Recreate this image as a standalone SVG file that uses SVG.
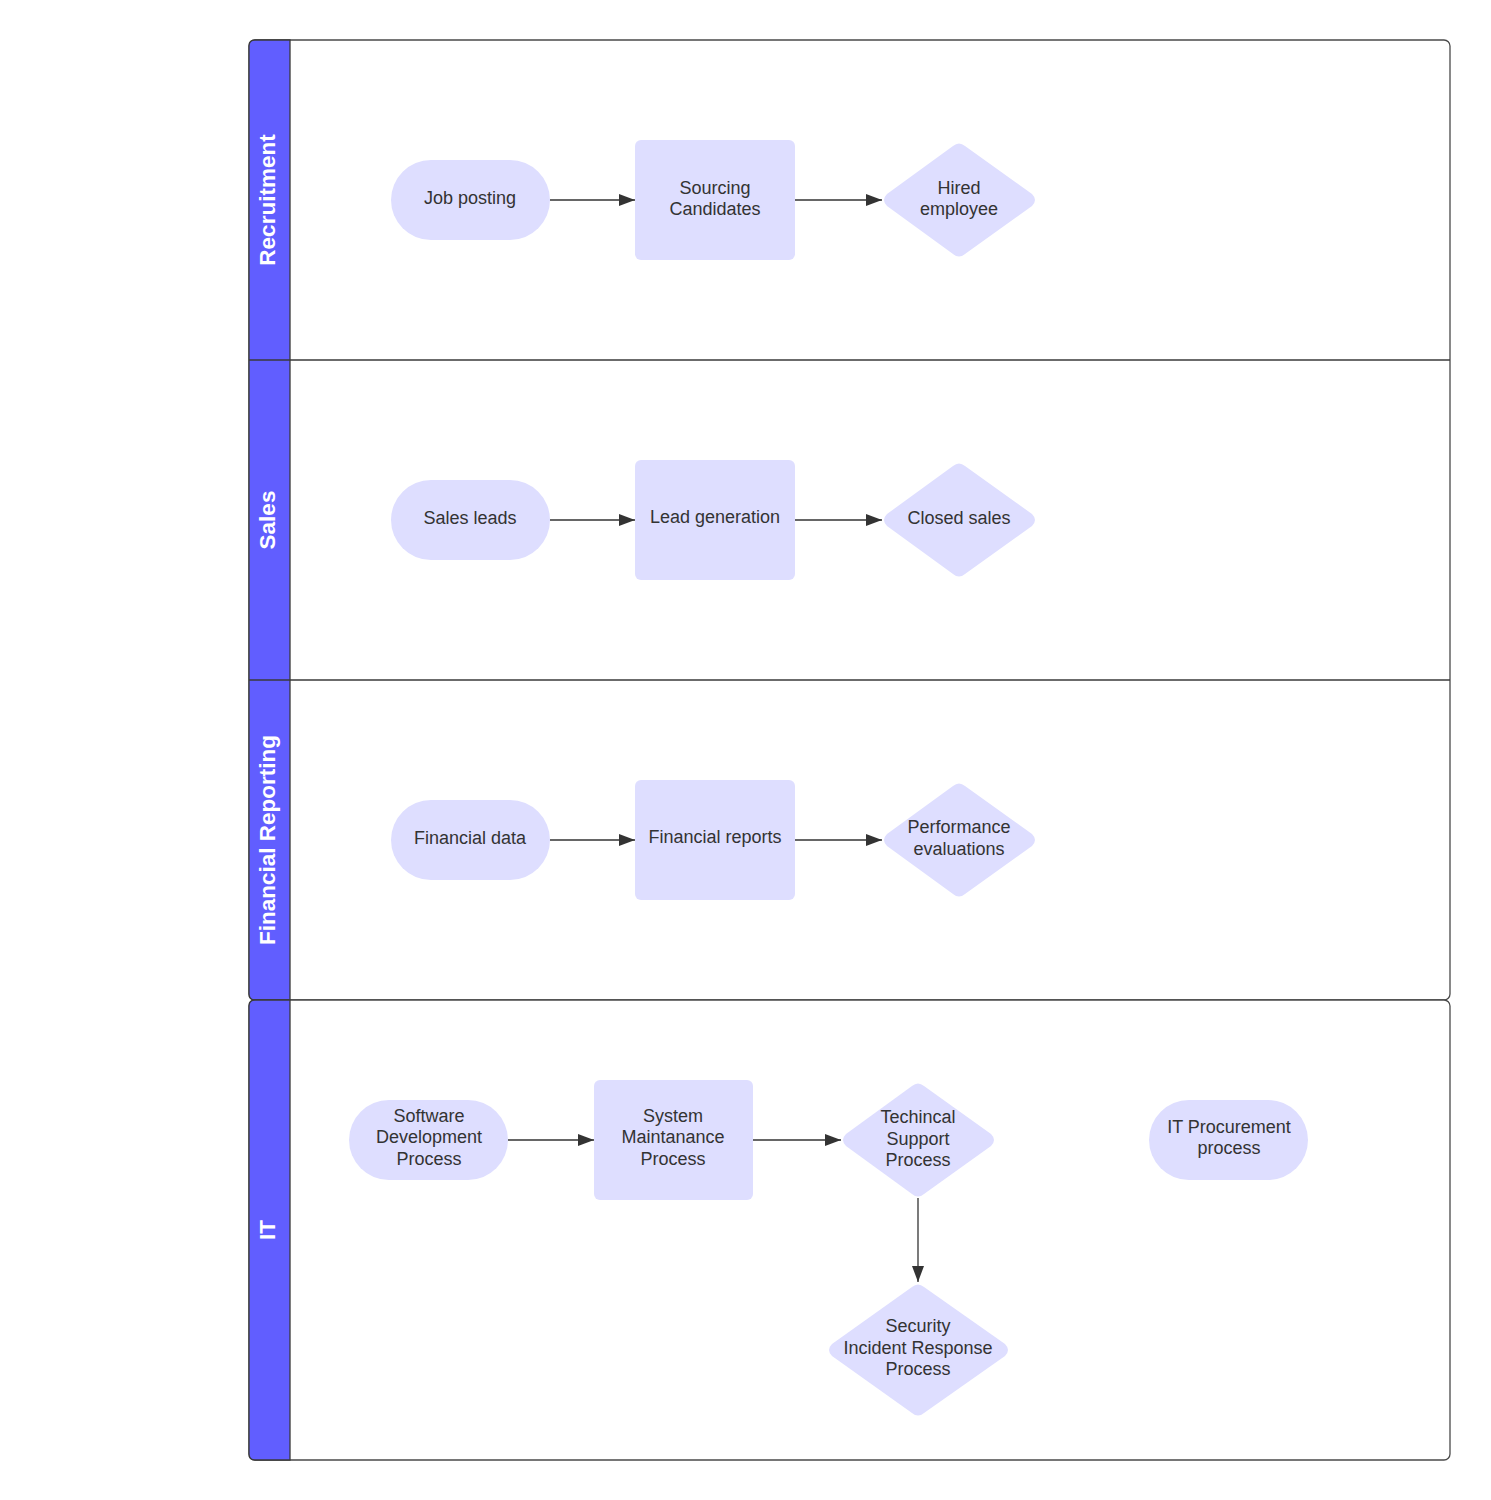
<svg xmlns="http://www.w3.org/2000/svg" width="1491" height="1500" viewBox="0 0 1491 1500">
<style>
.frame{fill:#fff;stroke:#4a4a4a;stroke-width:1.3}
.hdr{fill:#615EFF;stroke:#3a3a3a;stroke-width:1.3}
.div{stroke:#3a3a3a;stroke-width:1.3;fill:none}
.lane{font-family:"Liberation Sans",Arial,sans-serif;font-size:22.5px;font-weight:bold;fill:#fff;text-anchor:middle}
.n{fill:#DEDEFF;stroke:none}
.t{font-family:"Liberation Sans",Arial,sans-serif;font-size:18px;fill:#333;text-anchor:middle}
.c{stroke:#333;stroke-width:1.3;fill:none;marker-end:url(#ah)}
</style>
<defs>
<marker id="ah" viewBox="0 0 16 12" refX="16" refY="6" markerWidth="16" markerHeight="12" markerUnits="userSpaceOnUse" orient="auto">
<path d="M0,0 L16,6 L0,12 Z" fill="#333"/>
</marker>
</defs>
<rect width="1491" height="1500" fill="#fff"/>
<g id="pool-top">
<rect class="frame" x="249" y="40" width="1201" height="960" rx="6"/>
<path class="hdr" d="M255,40 H290 V1000 H255 Q249,1000 249,994 V46 Q249,40 255,40 Z"/>
<line class="div" x1="249" y1="360" x2="1450" y2="360"/>
<line class="div" x1="249" y1="680" x2="1450" y2="680"/>
<text class="lane" transform="translate(275,200) rotate(-90)">Recruitment</text>
<text class="lane" transform="translate(275,520) rotate(-90)">Sales</text>
<text class="lane" transform="translate(275,840) rotate(-90)">Financial Reporting</text>
</g>
<g id="pool-it">
<rect class="frame" x="249" y="1000" width="1201" height="460" rx="6"/>
<path class="hdr" d="M255,1000 H290 V1460 H255 Q249,1460 249,1454 V1006 Q249,1000 255,1000 Z"/>
<text class="lane" transform="translate(275,1230) rotate(-90)">IT</text>
</g>
<g id="connectors">
<path class="c" d="M550,200 H635"/>
<path class="c" d="M795,200 H882"/>
<path class="c" d="M550,520 H635"/>
<path class="c" d="M795,520 H882"/>
<path class="c" d="M550,840 H635"/>
<path class="c" d="M795,840 H882"/>
<path class="c" d="M508,1140 H594"/>
<path class="c" d="M753,1140 H841"/>
<path class="c" d="M918,1198 V1282"/>
</g>
<g id="job-posting"><rect class="n" x="391" y="160" width="159" height="80" rx="40"/><text class="t" x="470" y="204">Job posting</text></g>
<g id="sourcing"><rect class="n" x="635" y="140" width="160" height="120" rx="6"/><text class="t" x="715" y="194">Sourcing</text><text class="t" x="715" y="215">Candidates</text></g>
<g id="hired"><path class="n" d="M953,146 Q959,141 965,146 L1032,194 Q1038,200 1032,206 L965,254 Q959,259 953,254 L887,206 Q881,200 887,194 Z"/><text class="t" x="959" y="194">Hired</text><text class="t" x="959" y="215">employee</text></g>
<g id="sales-leads"><rect class="n" x="391" y="480" width="159" height="80" rx="40"/><text class="t" x="470" y="524">Sales leads</text></g>
<g id="lead-gen"><rect class="n" x="635" y="460" width="160" height="120" rx="6"/><text class="t" x="715" y="523">Lead generation</text></g>
<g id="closed-sales"><path class="n" d="M953,466 Q959,461 965,466 L1032,514 Q1038,520 1032,526 L965,574 Q959,579 953,574 L887,526 Q881,520 887,514 Z"/><text class="t" x="959" y="524">Closed sales</text></g>
<g id="financial-data"><rect class="n" x="391" y="800" width="159" height="80" rx="40"/><text class="t" x="470" y="844">Financial data</text></g>
<g id="financial-reports"><rect class="n" x="635" y="780" width="160" height="120" rx="6"/><text class="t" x="715" y="843">Financial reports</text></g>
<g id="performance"><path class="n" d="M953,786 Q959,781 965,786 L1032,834 Q1038,840 1032,846 L965,894 Q959,899 953,894 L887,846 Q881,840 887,834 Z"/><text class="t" x="959" y="833">Performance</text><text class="t" x="959" y="855">evaluations</text></g>
<g id="software-dev"><rect class="n" x="349" y="1100" width="159" height="80" rx="40"/><text class="t" x="429" y="1122">Software</text><text class="t" x="429" y="1143">Development</text><text class="t" x="429" y="1165">Process</text></g>
<g id="system-maint"><rect class="n" x="594" y="1080" width="159" height="120" rx="6"/><text class="t" x="673" y="1122">System</text><text class="t" x="673" y="1143">Maintanance</text><text class="t" x="673" y="1165">Process</text></g>
<g id="tech-support"><path class="n" d="M912,1086 Q918,1081 924,1086 L991,1134 Q997,1140 991,1146 L924,1194 Q918,1199 912,1194 L846,1146 Q840,1140 846,1134 Z"/><text class="t" x="918" y="1123">Techincal</text><text class="t" x="918" y="1145">Support</text><text class="t" x="918" y="1166">Process</text></g>
<g id="security"><path class="n" d="M912,1287 Q918,1282 924,1287 L1005,1344 Q1011,1350 1005,1356 L924,1413 Q918,1418 912,1413 L832,1356 Q826,1350 832,1344 Z"/><text class="t" x="918" y="1332">Security</text><text class="t" x="918" y="1354">Incident Response</text><text class="t" x="918" y="1375">Process</text></g>
<g id="it-procurement"><rect class="n" x="1149" y="1100" width="159" height="80" rx="40"/><text class="t" x="1229" y="1133">IT Procurement</text><text class="t" x="1229" y="1154">process</text></g>
</svg>
